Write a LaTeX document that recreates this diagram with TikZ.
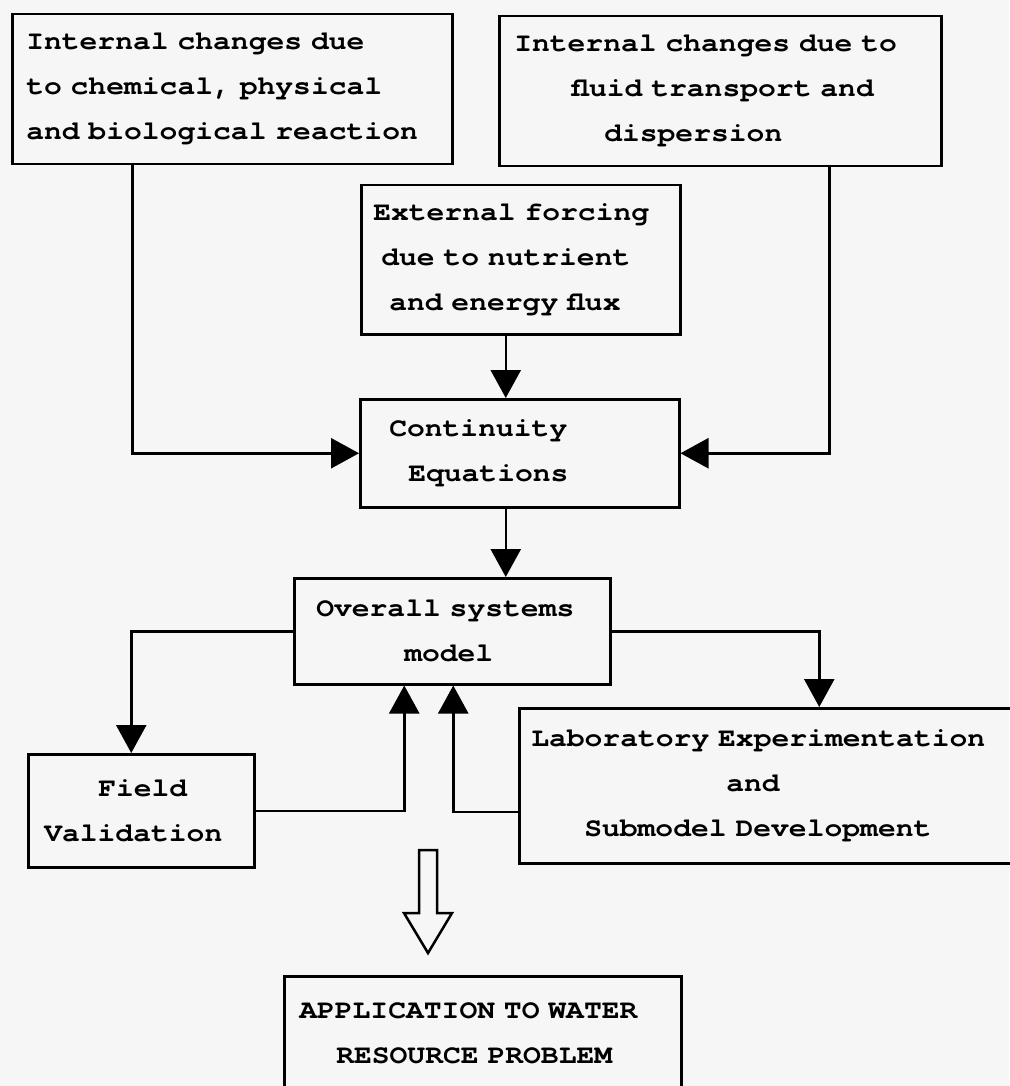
\documentclass[tikz,border=0pt]{standalone}
\usepackage{fontspec}
\usetikzlibrary{arrows.meta,positioning,calc}
\newfontfamily\typew{texgyrecursor-bold.otf}[FakeStretch=1.12]
\newcommand\typefont{\typew\fontsize{26.5}{45}\selectfont
    \spaceskip=17.8pt\relax \xspaceskip=17.8pt\relax}
\definecolor{paper}{RGB}{246,246,246}

\begin{document}
\begin{tikzpicture}[x=1pt, y=-1pt,
    box/.style={draw, line width=2.5pt, anchor=north west, align=left,
                inner ysep=0pt, font=\typefont},
    arr/.style={-{Triangle[length=28pt,width=30pt]}, line width=2.5pt}]

    \useasboundingbox[fill=paper] (0,0) rectangle (1009,1086);

    % sources of change
    \node[box, text width=412pt, inner xsep=14pt, minimum height=150pt] (chem) at (11,13)
        {Internal changes due\\to chemical, physical\\and biological reaction};
    \node[box, text width=412pt, inner xsep=15pt, minimum height=150pt] (fluid) at (498,15)
        {Internal changes due to\\\hspace*{57pt}fluid transport and\\\hspace*{90pt}dispersion};
    \node[box, text width=295pt, inner xsep=12pt, minimum height=149pt] (ext) at (360,184)
        {External forcing\\\hspace*{8pt}due to nutrient\\\hspace*{16pt}and energy flux};

    % model chain
    \node[box, text width=261pt, inner xsep=29pt, minimum height=108pt] (cont) at (359,398)
        {Continuity\\\hspace*{19pt}Equations};
    \node[box, text width=272pt, inner xsep=22pt, minimum height=106pt] (model) at (293,577)
        {Overall systems\\\hspace*{88pt}model};
    \node[box, text width=194pt, inner xsep=16pt, minimum height=113pt] (field) at (27,753)
        {\hspace*{54pt}Field\\Validation};
    \node[box, text width=476pt, inner xsep=12pt, minimum height=155pt] (lab) at (518,707)
        {Laboratory Experimentation\\\hspace*{195pt}and\\\hspace*{53pt}Submodel Development};
    \node[box, text width=367pt, inner xsep=15pt, minimum height=114pt] (app) at (283,975)
        {APPLICATION TO WATER\\\hspace*{37pt}RESOURCE PROBLEM};

    \draw[arr] ([xshift=-14pt]cont.north |- ext.south) -- ([xshift=-14pt]cont.north);
    \draw[arr] ([xshift=-100pt]chem.south) |- (cont.west);
    \draw[arr] ([xshift=109pt]fluid.south) |- (cont.east);
    \draw[arr] ([xshift=-14pt]cont.south) -- ([xshift=-14pt]cont.south |- model.north);

    % feedback loops
    \draw[arr] (model.west) -| ([xshift=-10pt]field.north);
    \draw[arr] (model.east) -| ([xshift=50pt]lab.north);
    \draw[arr] (field.east) -| ([xshift=-48pt]model.south);
    \draw[arr] ([yshift=-26pt]lab.west) -| ([xshift=1pt]model.south);

    % broad arrow to the application
    \coordinate (tail) at (428,850);
    \draw[line width=2.5pt] ([xshift=-9pt]tail) -- ++(0,63) -- ++(-15,0) -- ++(24,40)
        -- ++(24,-40) -- ++(-15,0) -- ++(0,-63) -- cycle;
\end{tikzpicture}
\end{document}
